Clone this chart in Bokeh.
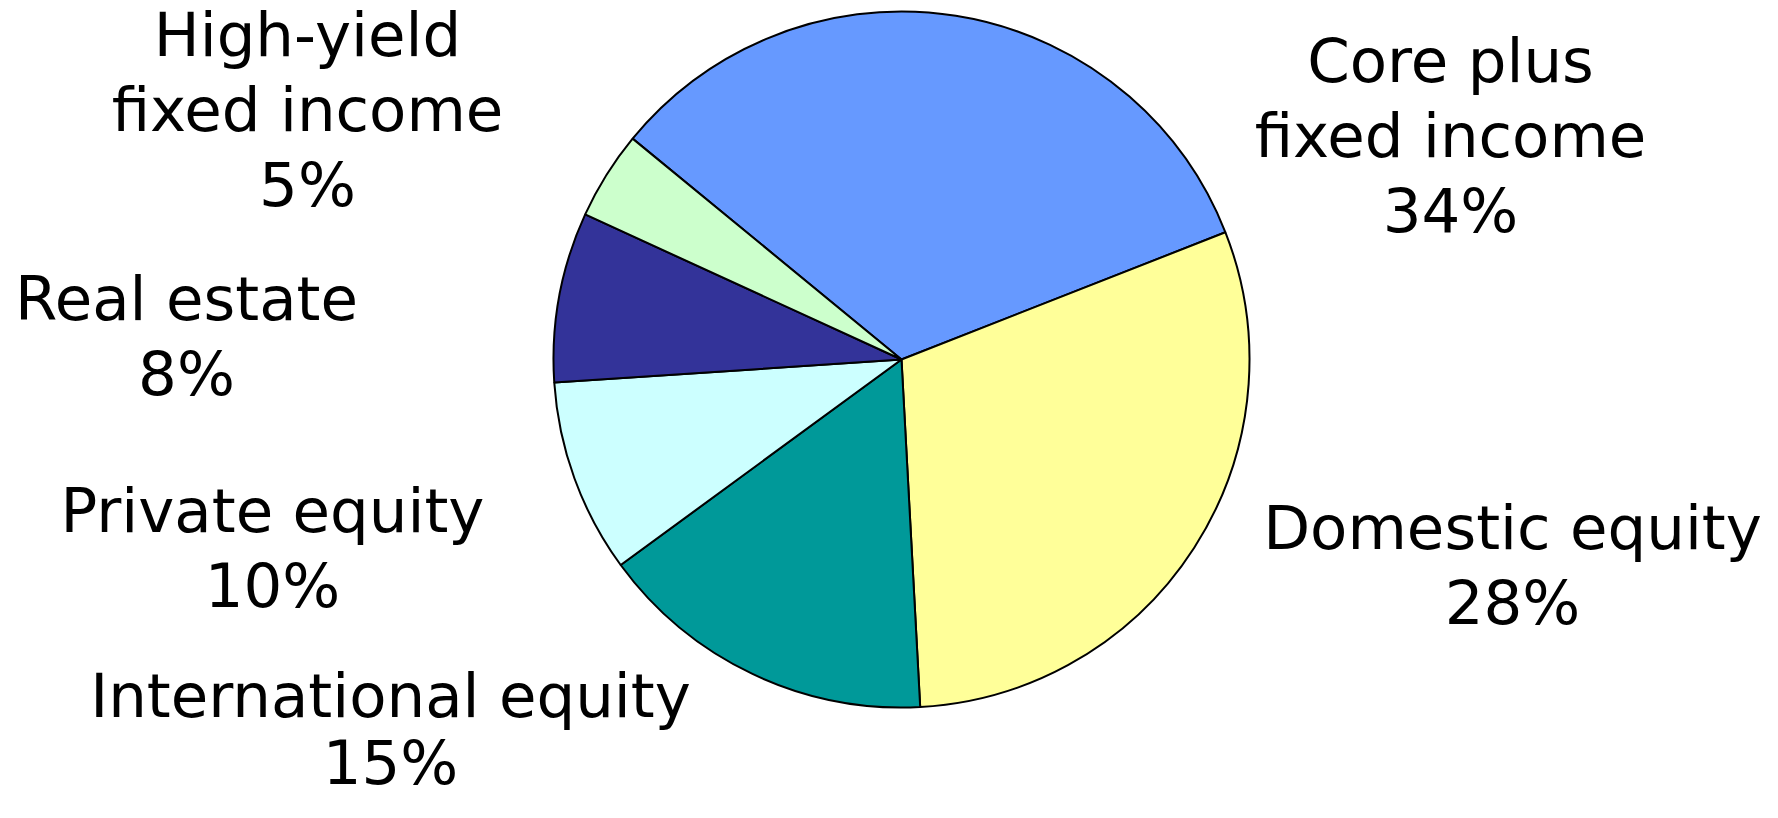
import math
from bokeh.plotting import figure
from bokeh.models import Range1d, ColumnDataSource
from bokeh.core.properties import value
from bokeh.embed import file_html
from bokeh.resources import INLINE

# ---- data ----
categories = ["Core plus\nfixed income", "Domestic equity", "International equity",
              "Private equity", "Real estate", "High-yield\nfixed income"]
allocation_pct = [34, 28, 15, 10, 8, 5]              # printed in labels
slice_share = [33.1, 30.1, 15.8, 9.0, 7.9, 4.1]       # slice sizes as drawn
colors = ["#6699FF", "#FFFF99", "#009999", "#CCFFFF", "#333399", "#CCFFCC"]

# ---- layout (pixels from top-left of the figure) ----
W, H = 1762, 802
def fx(px): return px
def fy(py): return H - py

pie_cx, pie_cy, pie_r = 901, 359, 348
start_deg = 140.6
label_cx = [1450, 1512, 390, 272, 186, 307]
label_first_baseline = [83, 550, 718, 533, 321, 57]
line_steps = [75, 75, 67, 75, 75, 75]
text_dy = 23
font = "DejaVu Sans"
font_px = "61px"

p = figure(width=W, height=H, output_backend="svg", toolbar_location=None,
           x_range=Range1d(0, W), y_range=Range1d(0, H), min_border=0,
           outline_line_color=None, background_fill_color="white",
           border_fill_color="white")
p.axis.visible = False
p.grid.visible = False

# wedges (clockwise from start angle)
total = sum(slice_share)
starts, ends = [], []
acc = 0.0
for s in slice_share:
    a_end = math.radians(start_deg - acc / total * 360.0)
    acc += s
    a_start = math.radians(start_deg - acc / total * 360.0)
    starts.append(a_start)
    ends.append(a_end)

src = ColumnDataSource(dict(start=starts, end=ends, color=colors,
                            x=[fx(pie_cx)] * len(colors), y=[fy(pie_cy)] * len(colors)))
p.wedge(x="x", y="y", radius=pie_r, start_angle="start", end_angle="end",
        fill_color="color", line_color="black", line_width=2, source=src)

# labels
tx, ty, tt = [], [], []
for cat, pct, cx, b, step in zip(categories, allocation_pct, label_cx,
                                 label_first_baseline, line_steps):
    lines = cat.split("\n") + [f"{pct}%"]
    for i, ln in enumerate(lines):
        tx.append(fx(cx))
        ty.append(fy(b + i * step - text_dy))
        tt.append(ln)

p.text(x=tx, y=ty, text=tt, text_font=value(font), text_font_size=font_px,
       text_align="center", text_baseline="alphabetic", text_color="black")

open("out.html", "w").write(file_html(p, INLINE))
